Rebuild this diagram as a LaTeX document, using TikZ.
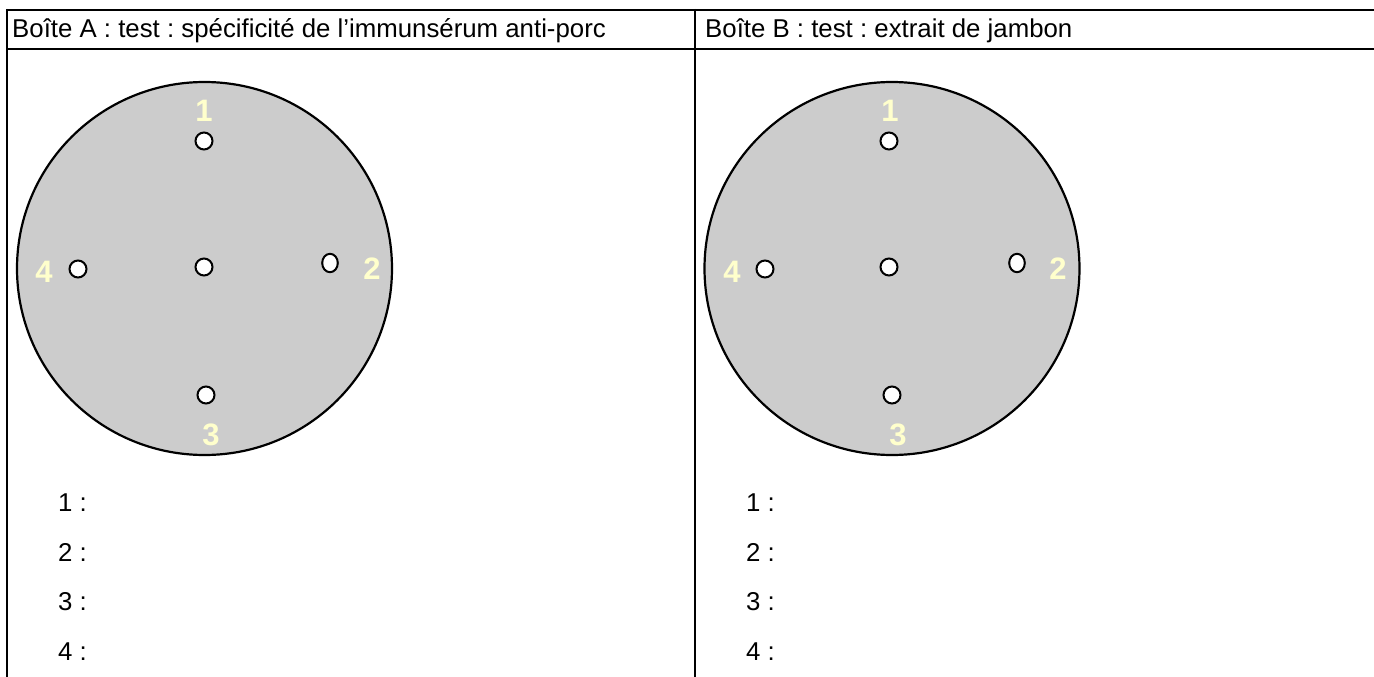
\documentclass[tikz,border=0pt]{standalone}
\usepackage{fontspec}
\setmainfont{Liberation Sans}
\frenchspacing
\begin{document}
\begin{tikzpicture}[x=1pt,y=-1pt,
  rule/.style={line width=2.4pt,black},
  dish/.style={fill=dishgray,draw=black,line width=2.2pt},
  well/.style={fill=white,draw=black,line width=2pt},
  wellnum/.style={text=numyellow,font=\fontsize{31}{31}\selectfont\bfseries,inner sep=0pt},
  txt/.style={font=\fontsize{25.8}{25.8}\selectfont,inner sep=0pt,anchor=base west}]
\definecolor{dishgray}{HTML}{CCCCCC}
\definecolor{numyellow}{HTML}{FFFFCC}
\useasboundingbox (0,0) rectangle (1374,677);
\fill[white] (0,0) rectangle (1374,677);

% table rules
\draw[rule] (7,10) -- (1376,10);
\draw[rule] (7,49) -- (1376,49);
\draw[rule] (7,9) -- (7,678);
\draw[rule] (695,9) -- (695,678);

% column headers
\node[txt] (headA) at (12,38) {Boîte A : test : spécificité de l’immunsérum anti-porc};
\node[txt] (headB) at (705,38) {Boîte B : test : extrait de jambon};

% dish A
\draw[dish] (204.5,268.5) ellipse [x radius=187.5, y radius=186.5];
\draw[well] (204,141) circle (8.5);
\draw[well] (204,267) circle (8.5);
\draw[well] (330,263) ellipse [x radius=7.8, y radius=9.2];
\draw[well] (78,269) circle (8.5);
\draw[well] (206,395) circle (8.5);
\node[wellnum] (a1) at (204,111) {1};
\node[wellnum] (a2) at (372,269) {2};
\node[wellnum] (a3) at (211,435) {3};
\node[wellnum] (a4) at (44,272) {4};

% dish B
\draw[dish] (892,268.5) ellipse [x radius=187.5, y radius=186.5];
\draw[well] (889,141) circle (8.5);
\draw[well] (889,267) circle (8.5);
\draw[well] (1017,263) ellipse [x radius=7.8, y radius=9.2];
\draw[well] (765,269) circle (8.5);
\draw[well] (892,395) circle (8.5);
\node[wellnum] (b1) at (890,111) {1};
\node[wellnum] (b2) at (1058,269) {2};
\node[wellnum] (b3) at (898,435) {3};
\node[wellnum] (b4) at (732,272) {4};

% answer lines
\node[txt] (la1) at (58,511) {1 :};
\node[txt] (la2) at (58,561) {2 :};
\node[txt] (la3) at (58,610) {3 :};
\node[txt] (la4) at (58,660) {4 :};
\node[txt] (lb1) at (746,511) {1 :};
\node[txt] (lb2) at (746,561) {2 :};
\node[txt] (lb3) at (746,610) {3 :};
\node[txt] (lb4) at (746,660) {4 :};
\end{tikzpicture}
\end{document}
